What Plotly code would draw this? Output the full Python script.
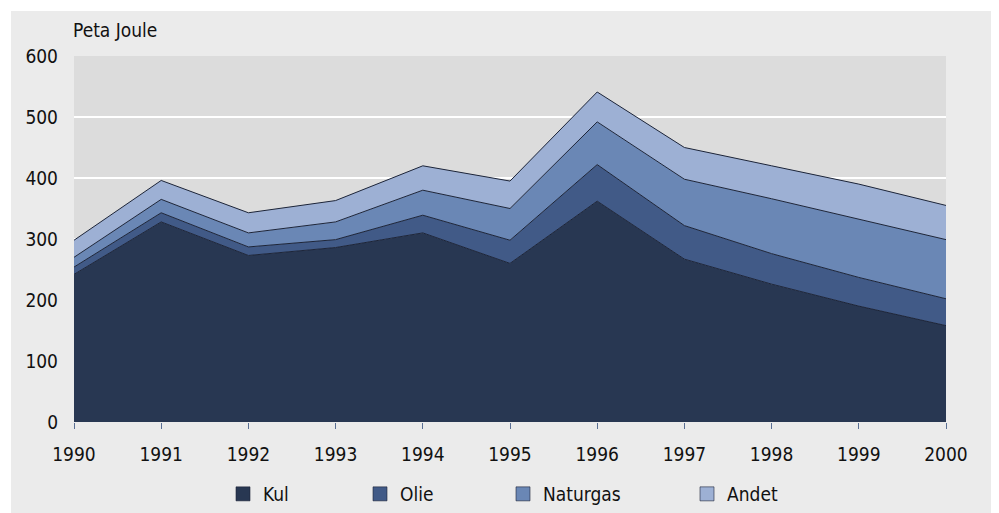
import plotly.graph_objects as go

years = [1990, 1991, 1992, 1993, 1994, 1995, 1996, 1997, 1998, 1999, 2000]
kul = [242, 328, 273, 286, 310, 260, 362, 267, 226, 190, 158]
olie = [12, 15, 14, 13, 29, 38, 60, 55, 50, 47, 44]
naturgas = [16, 22, 23, 29, 41, 52, 70, 76, 90, 95, 97]
andet = [28, 31, 33, 35, 40, 45, 49, 52, 54, 58, 56]

series_names = ["Kul", "Olie", "Naturgas", "Andet"]
series_values = [kul, olie, naturgas, andet]
colors = ["#283752", "#415a87", "#6a87b5", "#9db0d4"]
y_ticks = [0, 100, 200, 300, 400, 500, 600]

FONT = "DejaVu Sans Condensed, Liberation Sans Narrow, sans-serif"
TXT = "#111111"
FS = 19

# page offset of the figure (body margin)
OFF = 8
# figure size & plot area (figure pixel coords)
W, H = 999 - OFF, 513 - OFF
L, T = 74 - OFF, 56 - OFF
R, B = W - (946 - OFF), H - (422 - OFF)
pw, ph = W - L - R, H - T - B


def px_x(page_x):
    return (page_x - OFF - L) / pw


def px_y(page_y):
    return (H - B - (page_y - OFF)) / ph


fig = go.Figure()
for name, vals, col in zip(series_names, series_values, colors):
    fig.add_trace(go.Scatter(
        x=years, y=vals, name=name, stackgroup="one", mode="lines",
        line=dict(color="#1c2438", width=1), fillcolor=col,
        showlegend=False, hoverinfo="skip"))

legend_px = [223, 360, 503, 687]
for i, (name, col) in enumerate(zip(series_names, colors)):
    lg = "legend" if i == 0 else f"legend{i+1}"
    fig.add_trace(go.Scatter(
        x=[None], y=[None], mode="markers", name=name, legend=lg,
        marker=dict(symbol="square", size=14, color=col,
                    line=dict(color="#1c2438", width=0.6))))

legend_common = dict(orientation="h", xanchor="left", yanchor="middle",
                     bgcolor="rgba(0,0,0,0)", borderwidth=0,
                     font=dict(family=FONT, size=FS, color=TXT))
legends = {}
for i, px in enumerate(legend_px):
    key = "legend" if i == 0 else f"legend{i+1}"
    legends[key] = dict(legend_common, x=px_x(px), y=px_y(494))

fig.update_layout(
    width=W, height=H,
    margin=dict(l=L, r=R, t=T, b=B, autoexpand=False),
    paper_bgcolor="white",
    plot_bgcolor="rgba(0,0,0,0)",
    font=dict(family=FONT, size=FS, color=TXT),
    shapes=[
        dict(type="rect", xref="paper", yref="paper", layer="below",
             x0=px_x(11), x1=px_x(995),
             y0=px_y(530), y1=px_y(11),
             fillcolor="#ebebeb", line=dict(width=0)),
        dict(type="rect", xref="paper", yref="paper", layer="below",
             x0=0, x1=1, y0=0, y1=1,
             fillcolor="#dcdcdc", line=dict(width=0)),
    ],
    xaxis=dict(range=[1990, 2000], tickvals=years, ticktext=[str(y) for y in years],
               showgrid=False, zeroline=False, showline=False,
               ticks="outside", ticklen=6, tickwidth=1, tickcolor="#5a6f94",
               ticklabelstandoff=9,
               tickfont=dict(family=FONT, size=FS, color=TXT)),
    yaxis=dict(range=[0, 600], tickvals=y_ticks, showgrid=True,
               gridcolor="white", gridwidth=2, zeroline=False, showline=False,
               ticks="", ticklabelstandoff=15,
               tickfont=dict(family=FONT, size=FS, color=TXT)),
    annotations=[dict(text="Peta Joule", xref="paper", yref="paper",
                      x=px_x(71), y=px_y(30),
                      xanchor="left", yanchor="middle", showarrow=False,
                      font=dict(family=FONT, size=FS, color=TXT))],
    **legends,
)

fig.write_html("out.html")
